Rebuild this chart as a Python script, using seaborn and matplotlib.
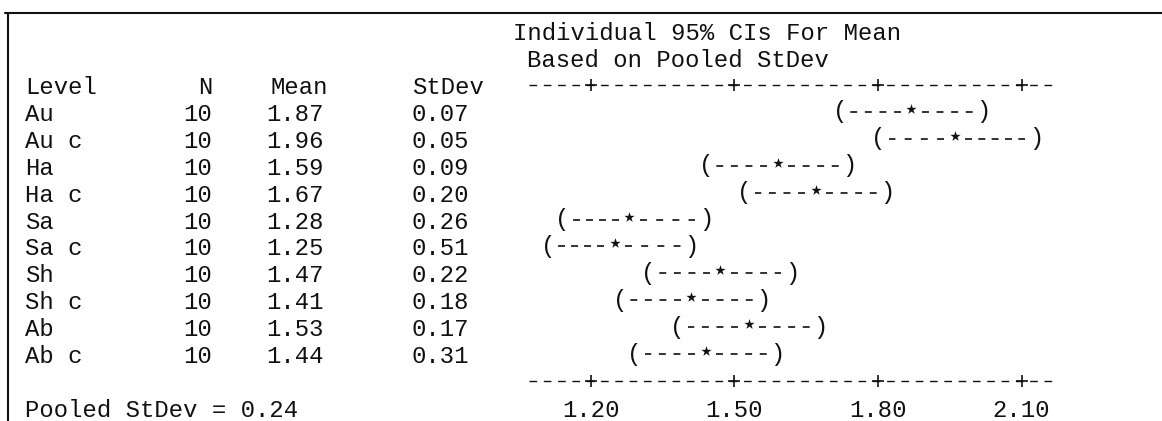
import numpy as np
import pandas as pd
import matplotlib
matplotlib.use("Agg")
import matplotlib.pyplot as plt
import seaborn as sns
from matplotlib.lines import Line2D
from matplotlib.transforms import blended_transform_factory, offset_copy

# One-way ANOVA summary (Minitab style output)
levels = ["Au", "Au c", "Ha", "Ha c", "Sa", "Sa c", "Sh", "Sh c", "Ab", "Ab c"]
n_obs = [10, 10, 10, 10, 10, 10, 10, 10, 10, 10]
means = [1.87, 1.96, 1.59, 1.67, 1.28, 1.25, 1.47, 1.41, 1.53, 1.44]
stdevs = [0.07, 0.05, 0.09, 0.20, 0.26, 0.51, 0.22, 0.18, 0.17, 0.31]
# 95% CI ends as drawn in the text plot
ci_low = [1.72, 1.80, 1.44, 1.52, 1.14, 1.11, 1.32, 1.26, 1.38, 1.29]
ci_high = [2.02, 2.13, 1.74, 1.82, 1.44, 1.41, 1.62, 1.56, 1.68, 1.59]
tick_values = [1.20, 1.50, 1.80, 2.10]
tick_labels = ["1.20", "1.50", "1.80", "2.10"]
pooled_sd = 0.24

df = pd.DataFrame({"level": levels, "n": n_obs, "mean": means, "sd": stdevs,
                   "lo": ci_low, "hi": ci_high})
df["row"] = np.arange(len(df)) + 3

sns.set_theme(style="white")
plt.rcParams["lines.scale_dashes"] = False
FONT = ["Liberation Mono", "DejaVu Sans Mono"]
FS = 17.2
INK = "#111111"

W, H = 1162, 421
fig = plt.figure(figsize=(W / 100, H / 100), dpi=100)
ax = fig.add_axes([0, 0, 1, 1])

# pixel layout: value 1.20 sits at x=591 px, 0.30 per 143.5 px; text rows 26.9 px apart
px_per_unit = 143.5 / 0.30
char_px = 14.35
def val_at(px):
    return 1.20 + (px - 591) / px_per_unit
def row_at(py):
    return (py - 31) / 26.93

ax.set_xlim(val_at(0), val_at(W))
ax.set_ylim(row_at(H), row_at(0))
ax.axis("off")

tx = blended_transform_factory(fig.transFigure, ax.transData)
def put(px, row, s, ha="left"):
    ax.text(px / W, row, s, transform=tx, ha=ha, va="center_baseline",
            family=FONT, fontsize=FS, color=INK)

# headers
put(513, 0, "Individual 95% CIs For Mean")
put(527, 1, "Based on Pooled StDev")
put(25, 2, "Level")
put(212, 2, "N", ha="right")
put(328, 2, "Mean", ha="right")
put(484, 2, "StDev", ha="right")

# table body
for _, r in df.iterrows():
    put(25, r["row"], r["level"])
    put(212, r["row"], f"{r['n']:d}", ha="right")
    put(324, r["row"], f"{r['mean']:.2f}", ha="right")
    put(469, r["row"], f"{r['sd']:.2f}", ha="right")

put(25, 14, f"Pooled StDev = {pooled_sd:.2f}")

# text-plot axis rows (dashes with + at tick values)
dash = (0, (5.5, 4.8))
ax_lo, ax_hi = val_at(529), val_at(1057)
for row in (2, 13):
    ax.hlines(row, ax_lo, ax_hi, colors=INK, linewidth=1.0, linestyles=[dash])
    sns.scatterplot(x=tick_values, y=[row] * len(tick_values), marker="+",
                    s=70, color=INK, linewidth=1.2, ax=ax, legend=False)
for v, lab in zip(tick_values, tick_labels):
    ax.text(v, 14, lab, ha="center", va="center_baseline", family=FONT,
            fontsize=FS, color=INK)

# confidence intervals: (----*----)
gap = 0.022
def dashed(x0, x1, row):
    n = max(int(round(abs(x1 - x0) * px_per_unit / char_px)) - 1, 2)
    length_pt = (abs(x1 - x0) - 2 * gap) * px_per_unit * 0.72
    d = 5.0
    g = max((length_pt - n * d) / (n - 1), 1.0)
    ax.plot([x0 + np.sign(x1 - x0) * gap, x1 - np.sign(x1 - x0) * gap], [row, row],
            color=INK, linewidth=1.2, linestyle=(0, (d, g)), dash_capstyle="butt")

for _, r in df.iterrows():
    dashed(r["mean"], r["lo"], r["row"])
    dashed(r["mean"], r["hi"], r["row"])
    ax.text(r["lo"], r["row"], "(", ha="center", va="center", family=FONT,
            fontsize=FS, color=INK)
    ax.text(r["hi"], r["row"], ")", ha="center", va="center", family=FONT,
            fontsize=FS, color=INK)
sns.scatterplot(data=df, x="mean", y="row", marker="*", s=60, color=INK,
                linewidth=0, ax=ax, legend=False)
ax.collections[-1].set_offset_transform(
    offset_copy(ax.transData, fig=fig, x=0, y=3, units="dots"))

# frame: top rule and left rule
fig.add_artist(Line2D([5 / W, 1], [1 - 13 / H, 1 - 13 / H], color=INK, linewidth=1.5))
fig.add_artist(Line2D([8 / W, 8 / W], [0, 1 - 13 / H], color=INK, linewidth=1.5))

fig.savefig("out.png", dpi=100)
